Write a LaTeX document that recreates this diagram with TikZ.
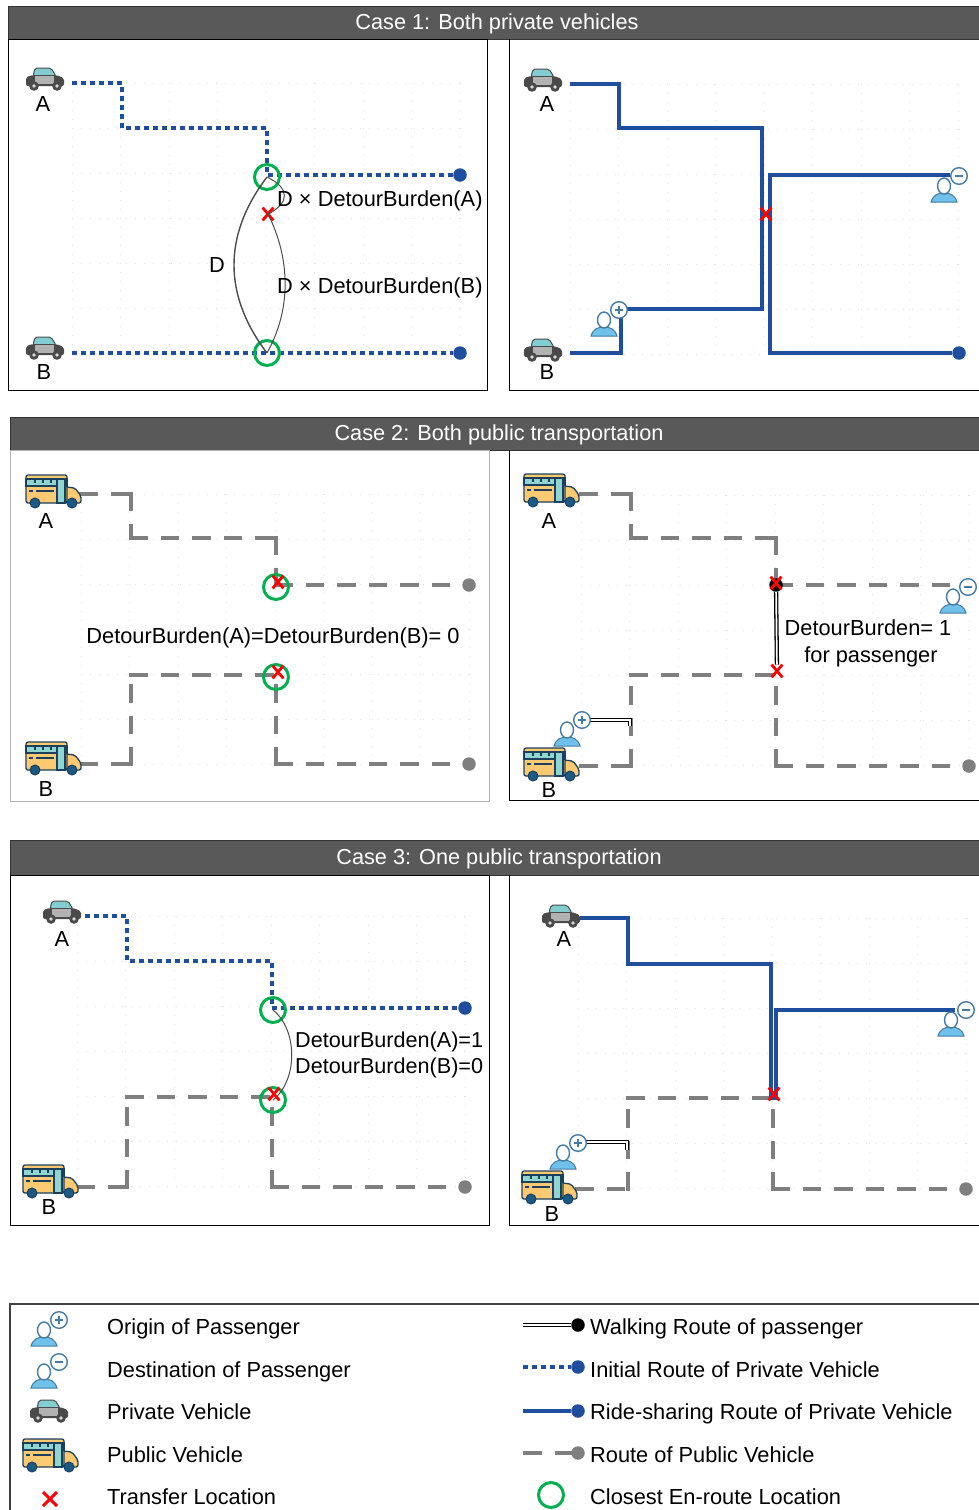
\documentclass[tikz,border=0pt]{standalone}
\usepackage{fontspec}
\setmainfont{Liberation Sans}
\usetikzlibrary{shapes.misc}
\definecolor{headgray}{HTML}{595959}
\definecolor{routeblue}{HTML}{1F4E9E}
\definecolor{routegray}{HTML}{7F7F7F}
\definecolor{spotgreen}{HTML}{00B050}
\definecolor{cardark}{HTML}{4A4A4A}
\definecolor{carglass}{HTML}{82CDD2}
\definecolor{carsilver}{HTML}{B2B2B2}
\definecolor{busnavy}{HTML}{1D3F5E}
\definecolor{busyellow}{HTML}{FDC971}
\definecolor{busglass}{HTML}{8FD6D0}
\definecolor{buswheel}{HTML}{1B5A85}
\definecolor{personblue}{HTML}{6EC1EA}
\definecolor{personline}{HTML}{457BA3}
\tikzset{
  txt/.style={font=\fontsize{21.8}{25}\selectfont,inner sep=0pt,text height=14.5pt,text depth=0pt},
  headtxt/.style={font=\fontsize{21.7}{25}\selectfont,inner sep=0pt,text=white,text height=14.5pt,text depth=0pt},
  headbar/.style={fill=headgray,draw=black!80,line width=1pt},
  frameline/.style={draw=black,line width=1pt},
  initialroute/.style={routeblue,line width=3.6pt,dash pattern=on 4.5pt off 4.5pt},
  rideroute/.style={routeblue,line width=3.4pt},
  publicroute/.style={routegray,line width=3.6pt,line cap=rect,dash pattern=on 15pt off 16.5pt},
  walkroute/.style={draw=black,double=white,line width=1.3pt,double distance=1.7pt},
  arcline/.style={draw=black!70,line width=1pt},
  griddot/.style={draw=black!12,line width=1pt,dash pattern=on 1pt off 8pt},
  closest/.style={circle,draw=spotgreen,line width=3pt,minimum size=25pt,inner sep=0pt},
  transfer/.style={cross out,draw=red,line width=2.8pt,minimum width=8pt,minimum height=10pt,inner sep=0pt},
  blueend/.style={circle,fill=routeblue,minimum size=13.5pt,inner sep=0pt},
  grayend/.style={circle,fill=routegray,minimum size=13.5pt,inner sep=0pt},
  blackend/.style={circle,fill=black,minimum size=13.5pt,inner sep=0pt},
  gridpic/.pic={
    \foreach \i in {0,...,8} \draw[griddot] ({48.5*\i},0) -- ({48.5*\i},270);
    \foreach \j in {0,...,6} \draw[griddot] (0,{45*\j}) -- (388,{45*\j});
  },
  carpic/.pic={
    \draw[fill=carglass,draw=cardark,line width=1pt,rounded corners=2pt] (-12,-3) -- (-10,-11) -- (6,-11) -- (11,-3) -- cycle;
    \fill[cardark,rounded corners=2pt] (-19,7) -- (-19,-2) -- (-12,-4) -- (11,-4) -- (19,-1) -- (19,7) -- cycle;
    \fill[carsilver] (-10,-3) rectangle (9,5);
    \fill[cardark] (-11,7) circle (4.8);
    \fill[cardark] (12,7) circle (4.8);
    \fill[white!85!black] (-11,7) circle (1.8);
    \fill[white!85!black] (12,7) circle (1.8);
  },
  buspic/.pic={
    \draw[fill=busyellow,draw=busnavy,line width=1.3pt,rounded corners=2pt] (13,-4) -- (22,-3) -- (28,5) -- (28,12) -- (13,12) -- cycle;
    \draw[fill=busyellow,draw=busnavy,line width=1.3pt,rounded corners=2pt] (-27,-16) rectangle (14,12);
    \draw[fill=busglass,draw=busnavy,line width=1.1pt] (-27,-12) rectangle (14,-5);
    \draw[fill=busglass,draw=busnavy,line width=1.1pt] (4,-12) rectangle (12,12);
    \draw[busnavy,line width=1.1pt] (-18,-12) -- (-18,-8) (-10,-12) -- (-10,-8) (-2,-12) -- (-2,-8);
    \draw[busnavy,line width=1.3pt] (-24,0) -- (-20,0) (-17,0) -- (1,0);
    \draw[fill=buswheel,draw=busnavy,line width=1pt] (-18,12) circle (5);
    \draw[fill=buswheel,draw=busnavy,line width=1pt] (19,12) circle (5);
  },
  personpic/.pic={
    \draw[fill=personblue,draw=personline,line width=1pt] (-13,16) .. controls (-11,9) and (-6,7) .. (0,7) .. controls (6,7) and (11,9) .. (13,16) -- cycle;
    \draw[fill=white,draw=personline,line width=1.4pt] (0,0) ellipse (6.5 and 8);
  },
  originpic/.pic={
    \pic {personpic};
    \draw[fill=white,draw=personline,line width=1.4pt] (15,-10) circle (8.3);
    \draw[personline,line width=1.4pt] (11,-10) -- (19,-10) (15,-14) -- (15,-6);
  },
  destpic/.pic={
    \pic {personpic};
    \draw[fill=white,draw=personline,line width=1.4pt] (15,-10) circle (8.3);
    \draw[personline,line width=1.4pt] (11,-10) -- (19,-10);
  },
}
\begin{document}
\begin{tikzpicture}[x=1pt,y=-1pt]
\useasboundingbox (0,0) rectangle (978,1510);

% case 1
\draw[headbar] (8,6) rectangle (980,39);
\node[headtxt] (head1) at (497,22.5) {Case 1: Both private vehicles};
\draw[frameline] (8,39) rectangle (487,390);
\draw[frameline] (980,390) -- (509,390) -- (509,39);
\pic at (72,83) {gridpic};
\pic at (570,84) {gridpic};

\coordinate (p1a0) at (72,83); \coordinate (p1a1) at (122,83); \coordinate (p1a2) at (122,128); \coordinate (p1a3) at (267,128);
\coordinate (p1a4) at (267,175); \coordinate (p1b0) at (72,353);
\node[blueend] (p1aend) at (460,175) {};
\node[blueend] (p1bend) at (460,353) {};
\draw[initialroute] (p1a0) -- (p1a1) -- (p1a2) -- (p1a3) -- (p1a4) -- (p1aend);
\draw[initialroute] (p1b0) -- (p1bend);
\node[transfer] (p1x) at (268,214) {};
\node[closest] (p1ca) at (267,177) {};
\node[closest] (p1cb) at (267,353) {};
\draw[arcline,line width=1.4pt] (p1ca.center) .. controls (223,235) and (223,295) .. (p1cb.center);
\draw[arcline] (p1ca.center) .. controls (290,188) and (290,203) .. (p1x.center);
\draw[arcline] (p1x.center) .. controls (291,260) and (291,310) .. (p1cb.center);
\pic at (45,79) {carpic};
\pic at (45,348) {carpic};
\node[txt] (p1la) at (43,104) {A};
\node[txt] (p1lb) at (44,372) {B};
\node[txt] (p1d) at (217,265) {D};
\node[txt,anchor=west] (p1ta) at (277,199.5) {D × DetourBurden(A)};
\node[txt,anchor=west] (p1tb) at (277,286.5) {D × DetourBurden(B)};

\coordinate (p1ra0) at (570,84); \coordinate (p1ra1) at (619,84); \coordinate (p1ra2) at (619,128); \coordinate (p1ra3) at (762,128);
\coordinate (p1ra4) at (762,309); \coordinate (p1ra5) at (621,309); \coordinate (p1ra6) at (621,353); \coordinate (p1ra7) at (570,353);
\coordinate (p1rb0) at (950,175); \coordinate (p1rb1) at (770,175); \coordinate (p1rb2) at (770,353);
\node[blueend] (p1rend) at (959,353) {};
\draw[rideroute] (p1ra0) -- (p1ra1) -- (p1ra2) -- (p1ra3) -- (p1ra4) -- (p1ra5) -- (p1ra6) -- (p1ra7);
\draw[rideroute] (p1rb0) -- (p1rb1) -- (p1rb2) -- (p1rend);
\node[transfer] (p1rx) at (766,214) {};
\pic at (543,80) {carpic};
\pic at (543,350) {carpic};
\pic at (604,320) {originpic};
\pic at (944,186) {destpic};
\node[txt] (p1rla) at (547,104) {A};
\node[txt] (p1rlb) at (547,372) {B};

% case 2
\draw[headbar] (10,417) rectangle (980,450);
\node[headtxt] (head2) at (499,433.5) {Case 2: Both public transportation};
\draw[draw=black!30,line width=1pt] (10,450) rectangle (489,801);
\draw[frameline] (980,800) -- (509,800) -- (509,450);
\pic at (81,494) {gridpic};
\pic at (581,495) {gridpic};

\coordinate (p2a0) at (81,494); \coordinate (p2a1) at (131,494); \coordinate (p2a2) at (131,538); \coordinate (p2a3) at (276,538);
\coordinate (p2a4) at (276,585); \coordinate (p2b0) at (81,764); \coordinate (p2b1) at (131,764); \coordinate (p2b2) at (131,675);
\coordinate (p2b3) at (276,675); \coordinate (p2b4) at (276,764);
\node[grayend] (p2aend) at (469,585) {};
\node[grayend] (p2bend) at (469,764) {};
\foreach \s/\t in {p2a0/p2a1,p2a1/p2a2,p2a2/p2a3,p2a3/p2a4,p2a4/p2aend,p2b0/p2b1,p2b1/p2b2,p2b2/p2b3,p2b4/p2b3,p2b4/p2bend}
  \draw[publicroute] (\s) -- (\t);
\node[closest] (p2ca) at (276,587) {};
\node[closest] (p2cb) at (276,677) {};
\node[transfer] (p2xa) at (278,582) {};
\node[transfer] (p2xb) at (278,672) {};
\pic at (53,491) {buspic};
\pic at (53,758) {buspic};
\node[txt] (p2la) at (46,521) {A};
\node[txt] (p2lb) at (46,789) {B};
\node[txt] (p2t) at (273,636) {DetourBurden(A)=DetourBurden(B)= 0};

\coordinate (p2ra0) at (581,494); \coordinate (p2ra1) at (631,494); \coordinate (p2ra2) at (631,538); \coordinate (p2ra3) at (776,538);
\coordinate (p2ra4) at (776,585); \coordinate (p2ra5) at (952,585); \coordinate (p2rb0) at (581,766); \coordinate (p2rb1) at (631,766);
\coordinate (p2rb2) at (631,675); \coordinate (p2rb3) at (776,675); \coordinate (p2rb4) at (776,766);
\node[grayend] (p2rend) at (969,766) {};
\foreach \s/\t in {p2ra0/p2ra1,p2ra1/p2ra2,p2ra2/p2ra3,p2ra3/p2ra4,p2ra4/p2ra5,p2rb0/p2rb1,p2rb1/p2rb2,p2rb2/p2rb3,p2rb4/p2rb3,p2rb4/p2rend}
  \draw[publicroute] (\s) -- (\t);
\node[blackend] (p2rwalk) at (776,585) {};
\node[transfer] (p2rxb) at (777,671) {};
\draw[walkroute] (p2rwalk) -- (p2rxb);
\node[transfer] (p2rxa) at (776,583) {};
\coordinate (p2rw0) at (590,720); \coordinate (p2rw1) at (630,720); \coordinate (p2rw2) at (630,726);
\draw[walkroute] (p2rw0) -- (p2rw1) -- (p2rw2);
\pic at (551,490) {buspic};
\pic at (551,764) {buspic};
\pic at (567,730) {originpic};
\pic at (953,597) {destpic};
\node[txt] (p2rla) at (549,521) {A};
\node[txt] (p2rlb) at (549,790) {B};
\node[txt] (p2rta) at (868,628) {DetourBurden= 1};
\node[txt] (p2rtb) at (871,655) {for passenger};

% case 3
\draw[headbar] (10,840) rectangle (980,875);
\node[headtxt] (head3) at (499,857.5) {Case 3: One public transportation};
\draw[frameline] (10,875) rectangle (489,1225);
\draw[frameline] (980,1225) -- (509,1225) -- (509,875);
\pic at (77,916) {gridpic};
\pic at (578,918) {gridpic};

\coordinate (p3a0) at (85,916); \coordinate (p3a1) at (127,916); \coordinate (p3a2) at (127,961); \coordinate (p3a3) at (272,961);
\coordinate (p3a4) at (272,1008); \coordinate (p3b0) at (78,1187); \coordinate (p3b1) at (127,1187); \coordinate (p3b2) at (127,1097);
\coordinate (p3b3) at (272,1097); \coordinate (p3b4) at (272,1187);
\node[blueend] (p3aend) at (465,1008) {};
\node[grayend] (p3bend) at (465,1187) {};
\draw[initialroute] (p3a0) -- (p3a1) -- (p3a2) -- (p3a3) -- (p3a4) -- (p3aend);
\foreach \s/\t in {p3b0/p3b1,p3b1/p3b2,p3b2/p3b3,p3b4/p3b3,p3b4/p3bend}
  \draw[publicroute] (\s) -- (\t);
\node[closest] (p3ca) at (273,1010) {};
\node[closest] (p3cb) at (273,1100) {};
\draw[arcline] (p3ca.center) .. controls (298,1030) and (298,1080) .. (p3cb.center);
\node[transfer] (p3x) at (274,1094) {};
\pic at (62,912) {carpic};
\pic at (50,1181) {buspic};
\node[txt] (p3la) at (62,939) {A};
\node[txt] (p3lb) at (49,1207) {B};
\node[txt,anchor=west,font=\fontsize{21.6}{25}\selectfont] (p3ta) at (295,1040) {DetourBurden(A)=1};
\node[txt,anchor=west,font=\fontsize{21.6}{25}\selectfont] (p3tb) at (295,1066) {DetourBurden(B)=0};

\coordinate (p3ra0) at (580,918); \coordinate (p3ra1) at (628,918); \coordinate (p3ra2) at (628,964); \coordinate (p3ra3) at (771,964);
\coordinate (p3ra4) at (771,1098); \coordinate (p3ra5) at (776,1098); \coordinate (p3ra6) at (776,1010); \coordinate (p3ra7) at (955,1010);
\coordinate (p3rb0) at (577,1189); \coordinate (p3rb1) at (628,1189); \coordinate (p3rb2) at (628,1098); \coordinate (p3rb3) at (773,1098);
\coordinate (p3rb4) at (773,1189);
\node[grayend] (p3rend) at (966,1189) {};
\foreach \s/\t in {p3rb0/p3rb1,p3rb1/p3rb2,p3rb2/p3rb3,p3rb4/p3rb3,p3rb4/p3rend}
  \draw[publicroute] (\s) -- (\t);
\draw[rideroute] (p3ra0) -- (p3ra1) -- (p3ra2) -- (p3ra3) -- (p3ra4) -- (p3ra5) -- (p3ra6) -- (p3ra7);
\node[transfer] (p3rx) at (774,1094) {};
\coordinate (p3rw0) at (586,1142); \coordinate (p3rw1) at (627,1142); \coordinate (p3rw2) at (627,1150);
\draw[walkroute] (p3rw0) -- (p3rw1) -- (p3rw2);
\pic at (561,916) {carpic};
\pic at (549,1187) {buspic};
\pic at (563,1153) {originpic};
\pic at (951,1020) {destpic};
\node[txt] (p3rla) at (564,939) {A};
\node[txt] (p3rlb) at (552,1214) {B};

% legend
\draw[draw=black!75,line width=1.2pt] (980,1304) -- (10,1304) -- (10,1512);
\pic at (44,1330) {originpic};
\pic at (44,1372) {destpic};
\pic at (49,1411) {carpic};
\pic at (50,1455) {buspic};
\node[transfer,minimum width=11pt,minimum height=11pt,line width=3pt] (legx) at (50,1499) {};
\node[txt,anchor=west] (leg1) at (107,1327) {Origin of Passenger};
\node[txt,anchor=west] (leg2) at (107,1370) {Destination of Passenger};
\node[txt,anchor=west] (leg3) at (107,1412) {Private Vehicle};
\node[txt,anchor=west] (leg4) at (107,1455) {Public Vehicle};
\node[txt,anchor=west] (leg5) at (107,1497) {Transfer Location};

\coordinate (lw0) at (523,1325); \node[blackend] (lw1) at (578,1325) {};
\coordinate (li0) at (523,1367); \node[blueend] (li1) at (578,1367) {};
\coordinate (lr0) at (523,1411); \node[blueend] (lr1) at (578,1411) {};
\coordinate (lp0) at (525,1453); \node[grayend] (lp1) at (578,1453) {};
\draw[walkroute] (lw0) -- (lw1);
\draw[initialroute] (li0) -- (li1);
\draw[rideroute] (lr0) -- (lr1);
\draw[publicroute] (lp0) -- (lp1);
\node[closest] (lc) at (551,1495) {};
\node[txt,anchor=west] (leg6) at (590,1327) {Walking Route of passenger};
\node[txt,anchor=west] (leg7) at (590,1370) {Initial Route of Private Vehicle};
\node[txt,anchor=west] (leg8) at (590,1412) {Ride-sharing Route of Private Vehicle};
\node[txt,anchor=west] (leg9) at (590,1455) {Route of Public Vehicle};
\node[txt,anchor=west] (leg10) at (590,1497) {Closest En-route Location};

\end{tikzpicture}
\end{document}
